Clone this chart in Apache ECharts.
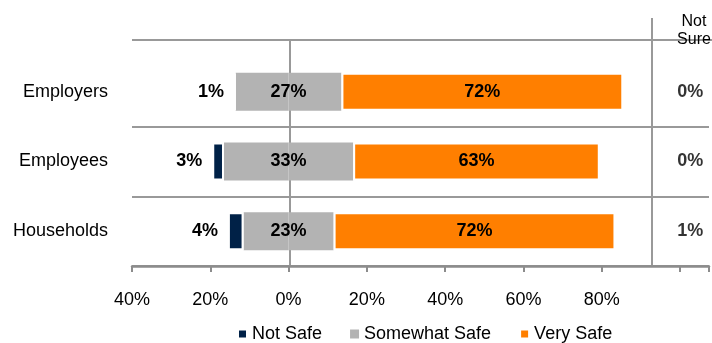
<!DOCTYPE html>
<html style="height: 100%">
<head>
    <meta charset="utf-8">
    <title>Safety</title>
</head>
<body style="height: 100%; margin: 0">
<div id="container" style="width: 712px; height: 343px"></div>

<script src="https://cdn.jsdelivr.net/npm/echarts@6/dist/echarts.min.js"></script>
<script type="text/javascript">
var categories = ['Employers', 'Employees', 'Households'];
var notSafe = [0.4, 3, 4];          // bar length (employers rounds up to 1%)
var notSafeLabels = ['1%', '3%', '4%'];
var somewhatSafe = [27, 33, 23];
var verySafe = [72, 63, 72];
var notSure = [0, 0, 1];
var axisTicks = [-40, -20, 0, 20, 40, 60, 80, 100];

var font = 'Liberation Sans, Arial, sans-serif';
var lineColor = '#999';

var myChart = echarts.init(document.getElementById('container'));

option = {
    backgroundColor: '#fff',
    animation: false,
    textStyle: { fontFamily: font },
    grid: { left: 132, right: 0, top: 57, bottom: 77 },
    legend: {
        left: 232,
        top: 320,
        icon: 'rect',
        itemWidth: 9,
        itemHeight: 9,
        itemGap: 28,
        textStyle: { fontSize: 18, color: '#000', fontFamily: font },
        data: ['Not Safe', 'Somewhat Safe', 'Very Safe']
    },
    xAxis: {
        type: 'value',
        min: axisTicks[0],
        max: 107.4,
        interval: 20,
        axisLine: { show: true, lineStyle: { color: '#8c8c8c', width: 2.5 } },
        axisTick: { show: true, length: 6, lineStyle: { color: '#8c8c8c', width: 2 } },
        axisLabel: {
            margin: 25,
            fontSize: 18,
            color: '#000',
            formatter: function (v) {
                return v > 80 ? '' : Math.abs(v) + '%';
            }
        },
        splitLine: { show: false }
    },
    yAxis: {
        type: 'category',
        data: categories,
        inverse: true,
        axisLine: { show: false },
        axisTick: { show: false },
        axisLabel: { margin: 24, fontSize: 18, color: '#000' },
        splitLine: {
            show: true,
            interval: function (i) { return i > 0; },
            lineStyle: { color: lineColor, width: 2 }
        }
    },
    graphic: [
        { type: 'line', z: 0, shape: { x1: 132, y1: 40, x2: 712, y2: 40 }, style: { stroke: lineColor, lineWidth: 2 } },
        { type: 'line', z: 0, shape: { x1: 290, y1: 40, x2: 290, y2: 266 }, style: { stroke: lineColor, lineWidth: 2 } },
        { type: 'line', z: 0, shape: { x1: 652, y1: 18, x2: 652, y2: 266 }, style: { stroke: lineColor, lineWidth: 2 } },
        { type: 'text', x: 694, y: 13, style: { text: 'Not\nSure', textAlign: 'center', font: '16px ' + font, fill: '#000', lineHeight: 18 } }
    ],
    series: [
        {
            name: 'Somewhat Safe',
            type: 'bar',
            stack: 'total',
            barWidth: 38,
            itemStyle: { color: '#b3b3b3' },
            data: somewhatSafe.map(function (v) { return -v / 2; })
        },
        {
            name: 'Somewhat Safe',
            type: 'bar',
            stack: 'total',
            barWidth: 38,
            itemStyle: { color: '#b3b3b3' },
            label: {
                show: true,
                position: 'left',
                distance: 0,
                align: 'center',
                fontSize: 18,
                fontWeight: 'bold',
                color: '#000',
                formatter: function (p) { return somewhatSafe[p.dataIndex] + '%'; }
            },
            data: somewhatSafe.map(function (v) { return v / 2; })
        },
        {
            name: 'Not Safe',
            type: 'bar',
            stack: 'total',
            barWidth: 38,
            itemStyle: { color: '#002147', borderColor: '#fff', borderWidth: 2 },
            label: {
                show: true,
                position: 'left',
                distance: 10,
                fontSize: 18,
                fontWeight: 'bold',
                color: '#000',
                formatter: function (p) { return notSafeLabels[p.dataIndex]; }
            },
            data: notSafe.map(function (v) { return -v; })
        },
        {
            name: 'Very Safe',
            type: 'bar',
            stack: 'total',
            barWidth: 38,
            itemStyle: { color: '#ff7f00', borderColor: '#fff', borderWidth: 2 },
            label: {
                show: true,
                position: 'inside',
                fontSize: 18,
                fontWeight: 'bold',
                color: '#000',
                formatter: '{c}%'
            },
            data: verySafe
        },
        {
            name: 'Not Sure',
            type: 'scatter',
            symbolSize: 1,
            itemStyle: { color: 'rgba(0,0,0,0)' },
            label: {
                show: true,
                position: 'inside',
                fontSize: 18,
                fontWeight: 'bold',
                color: '#000',
                formatter: function (p) { return notSure[p.dataIndex] + '%'; }
            },
            data: notSure.map(function (v, i) { return [102.6, categories[i]]; })
        }
    ]
};
myChart.setOption(option);
</script>
</body>
</html>
